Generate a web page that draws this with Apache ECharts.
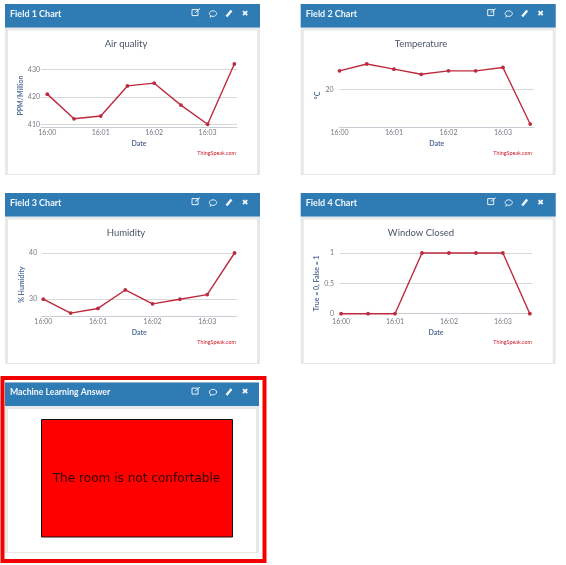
<!DOCTYPE html>
<html>
<head>
<meta charset="utf-8">
<style>html,body{margin:0;padding:0;background:#fff}#c{width:566px;height:565px;filter:blur(0.4px)}</style>
<script src="https://cdn.jsdelivr.net/npm/echarts@6/dist/echarts.min.js"></script>
</head>
<body>
<div id="c"></div>
<script>
const minutes = [0, 0.5, 1, 1.5, 2, 2.5, 3, 3.5];
const tickMinutes = [0, 1, 2, 3];
const tickLabels = ['16:00', '16:01', '16:02', '16:03'];
const airQuality = [421, 412, 413, 424, 425, 417, 410, 432];
const temperature = [25.5, 27.5, 26, 24.5, 25.5, 25.5, 26.5, 10];
const humidity = [30, 27, 28, 32, 29, 30, 31, 40];
const windowClosed = [0, 0, 0, 1, 1, 1, 1, 0];
const airTicks = [410, 420, 430];
const tempTicks = [20];
const humidityTicks = [30, 40];
const windowTicks = [0, 0.5, 1];
const panelHeaders = ['Field 1 Chart', 'Field 2 Chart', 'Field 3 Chart', 'Field 4 Chart'];
const answerHeader = 'Machine Learning Answer';
const answerText = 'The room is not confortable';

const charts = [
  {title:'Air quality', yName:'PPM/Million', values:airQuality, ticks:airTicks, yMin:409, yMax:432,
   xMin:-0.118, xMax:3.55, box:[41,64,237,127], gap:13, nameGap:13.5, labelMargin:1, xMargin:2,
   titleX:126, titleY:44, panel:[5,4], credit:[236,153]},
  {title:'Temperature', yName:'°C', values:temperature, ticks:tempTicks, yMin:9.14, yMax:27.5,
   xMin:0, xMax:3.57, box:[339.5,64,534,127], gap:13, nameGap:18, labelMargin:6, xMargin:2,
   titleX:421, titleY:44, panel:[300.7,4], credit:[532,153]},
  {title:'Humidity', yName:'% Humidity', values:humidity, ticks:humidityTicks, yMin:26.3, yMax:40,
   xMin:-0.03, xMax:3.54, box:[41.7,253,236.7,316.3], gap:12.7, nameGap:13.5, labelMargin:4.5, xMargin:2,
   titleX:126, titleY:233, panel:[5,193], credit:[236,342]},
  {title:'Window Closed', yName:'True = 0, False = 1', values:windowClosed, ticks:windowTicks, yMin:0, yMax:1,
   xMin:-0.02, xMax:3.54, box:[340,253,532,313.7], gap:15.3, nameGap:18, labelMargin:6, xMargin:5,
   titleX:421, titleY:233, panel:[300.7,193], credit:[532,342]}
];

const BLUE = '#2f7bb3', LABEL = '#74787f', NAME = '#56709a', LINE = '#bd2a40', TITLE = '#4a5568';
const UI = 'Lato, "Open Sans", sans-serif';
const g = [];

function headerIcons(x, y) {
  const ic = {stroke:'#e8f1f8', fill:'none', lineWidth:1};
  g.push({type:'rect', z:2, shape:{x:x+187, y:y+5, width:6, height:6}, style:ic});
  g.push({type:'line', z:2, shape:{x1:x+190, y1:y+8, x2:x+195, y2:y+4}, style:ic});
  g.push({type:'ellipse', z:2, shape:{cx:x+208, cy:y+9, rx:3.6, ry:2.8}, style:ic});
  g.push({type:'line', z:2, shape:{x1:x+206, y1:y+11, x2:x+205, y2:y+13}, style:ic});
  g.push({type:'line', z:2, shape:{x1:x+221.5, y1:y+12, x2:x+226.5, y2:y+6}, style:{stroke:'#f4f8fb', lineWidth:2.4}});
  g.push({type:'text', z:2, style:{x:x+240, y:y+9, text:'✖', fill:'#f4f8fb', font:'8px "DejaVu Sans"', align:'center', verticalAlign:'middle'}});
}

function panel(x, y, w, h, hh, label, font) {
  g.push({type:'rect', z:-10, shape:{x, y, width:w, height:h}, style:{fill:'#e6e8ea'}});
  g.push({type:'rect', z:-9, shape:{x:x+3, y:y+hh+3, width:w-6, height:h-hh-4}, style:{fill:'#fff'}});
  g.push({type:'rect', z:-8, shape:{x, y, width:w, height:hh}, style:{fill:BLUE}});
  g.push({type:'text', z:2, style:{x:x+5, y:y+9.6, text:label, fill:'#f2f7fb', font, verticalAlign:'middle'}});
  headerIcons(x, y + 0.6);
}

charts.forEach((c, i) => {
  panel(c.panel[0], c.panel[1], 255, 171, 23.5, panelHeaders[i], 'bold 9px ' + UI);
  g.push({type:'text', z:2, style:{x:c.credit[0], y:c.credit[1], text:'ThingSpeak.com', fill:'#c8202c', font:'5.4px ' + UI, align:'right', verticalAlign:'middle'}});
});

// Answer panel with thick red frame
g.push({type:'rect', z:-11, shape:{x:2.5, y:378, width:262, height:183}, style:{fill:'#fff', stroke:'#f50000', lineWidth:4}});
panel(5, 382.5, 254, 170.5, 23.5, answerHeader, 'bold 8.7px ' + UI);
g.push({type:'rect', z:1, shape:{x:41.5, y:419.5, width:191, height:117.5}, style:{fill:'#ff0000', stroke:'#111', lineWidth:1}});
g.push({type:'text', z:2, style:{x:136.5, y:478.7, text:answerText, fill:'#300000', font:'12.1px "DejaVu Sans"', align:'center', verticalAlign:'middle'}});

const option = {
  animation:false,
  backgroundColor:'#fff',
  title: charts.map(c => ({
    text:c.title, left:c.titleX, top:c.titleY-6, textAlign:'center', padding:0,
    textStyle:{color:TITLE, fontFamily:UI, fontWeight:'normal', fontSize:9.5, lineHeight:12}
  })),
  grid: charts.map(c => ({left:c.box[0], top:c.box[1], width:c.box[2]-c.box[0], height:c.box[3]-c.box[1], containLabel:false})),
  xAxis: charts.map((c, i) => ({
    type:'value', gridIndex:i, min:c.xMin, max:c.xMax,
    name:'Date', nameLocation:'middle', nameGap:c.gap,
    nameTextStyle:{color:NAME, fontFamily:UI, fontSize:7, fontWeight:'bold'},
    axisLine:{show:true, onZero:false, lineStyle:{color:'#c9ced6', width:1}},
    axisTick:{show:false, customValues:tickMinutes},
    splitLine:{show:false},
    axisLabel:{customValues:tickMinutes, margin:c.xMargin, color:LABEL, fontFamily:UI, fontSize:7,
      formatter:v => tickLabels[tickMinutes.indexOf(v)]}
  })),
  yAxis: charts.map((c, i) => ({
    type:'value', gridIndex:i, min:c.yMin, max:c.yMax,
    name:c.yName, nameLocation:'middle', nameRotate:90, nameGap:c.nameGap,
    nameTextStyle:{color:NAME, fontFamily:UI, fontSize:7, fontWeight:'bold'},
    axisLine:{show:false},
    axisTick:{show:false, customValues:c.ticks},
    splitLine:{show:true, lineStyle:{color:'#d8d8d8', width:1}},
    axisLabel:{customValues:c.ticks, margin:c.labelMargin, color:LABEL, fontFamily:UI, fontSize:7}
  })),
  series: charts.map((c, i) => ({
    type:'line', xAxisIndex:i, yAxisIndex:i, clip:false,
    data:minutes.map((m, k) => [m, c.values[k]]),
    symbol:'circle', symbolSize:3.8, showSymbol:true,
    lineStyle:{color:LINE, width:1.4}, itemStyle:{color:LINE}
  })),
  graphic:{elements:g}
};
echarts.init(document.getElementById('c'), null, {renderer:'canvas'}).setOption(option);
</script>
</body>
</html>
